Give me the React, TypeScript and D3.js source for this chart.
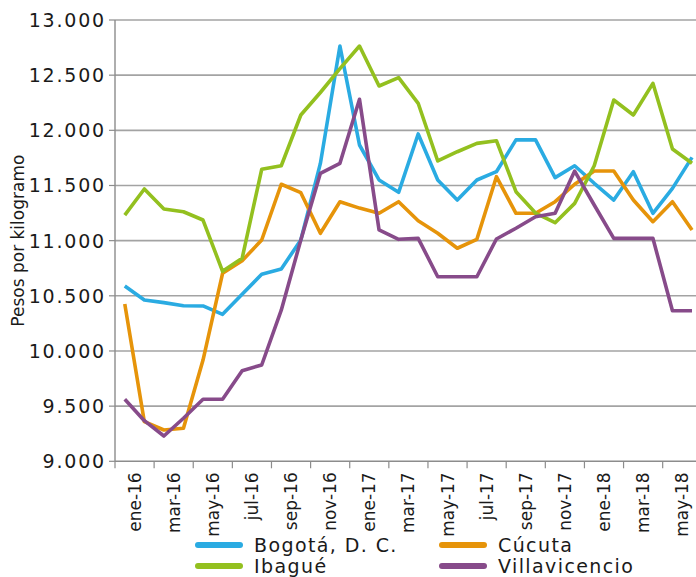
import React from 'react';
import * as d3 from 'd3';

const months = [
  "ene-16", "feb-16", "mar-16", "abr-16", "may-16", "jun-16", "jul-16", "ago-16", "sep-16", "oct-16", "nov-16", "dic-16",
  "ene-17", "feb-17", "mar-17", "abr-17", "may-17", "jun-17", "jul-17", "ago-17", "sep-17", "oct-17", "nov-17", "dic-17",
  "ene-18", "feb-18", "mar-18", "abr-18", "may-18", "jun-18"
];

const bogota = [10589, 10462, 10438, 10410, 10408, 10332, 10515, 10695, 10743, 11006, 11700, 12764,
  11867, 11550, 11438, 11967, 11550, 11368, 11550, 11625, 11913, 11913, 11571, 11679,
  11520, 11368, 11625, 11248, 11474, 11755];
const cucuta = [10426, 9359, 9284, 9299, 9918, 10704, 10818, 11006, 11511, 11435, 11067, 11353,
  11295, 11248, 11353, 11181, 11067, 10931, 11012, 11580, 11248, 11248, 11353, 11511,
  11631, 11631, 11368, 11172, 11353, 11097];
const ibague = [11232, 11468, 11287, 11262, 11187, 10722, 10840, 11647, 11679, 12139, 12343, 12559,
  12764, 12402, 12477, 12245, 11722, 11806, 11882, 11906, 11444, 11250, 11163, 11338,
  11679, 12275, 12139, 12426, 11831, 11701];
const villavicencio = [9562, 9368, 9229, 9390, 9562, 9562, 9821, 9873, 10370, 11006, 11610, 11701,
  12281, 11097, 11012, 11021, 10673, 10673, 10673, 11015, 11112, 11217, 11248, 11631,
  11323, 11021, 11021, 11021, 10365, 10365];

const yTicks = [9000, 9500, 10000, 10500, 11000, 11500, 12000, 12500, 13000];

const series = [
  { name: "Bogotá, D. C.", values: bogota, color: "#2aabe2" },
  { name: "Cúcuta", values: cucuta, color: "#e6940a" },
  { name: "Ibagué", values: ibague, color: "#93c01f" },
  { name: "Villavicencio", values: villavicencio, color: "#874b8a" },
];

const FONT = "'DejaVu Sans', sans-serif";

export default function App() {
  const left = 115, top = 20, bottom = 461.3;
  const band = 19.56;
  const right = left + band * months.length;

  const x = d3.scaleBand<string>().domain(months).range([left, right]);
  const y = d3.scaleLinear().domain([9000, 13000]).range([bottom, top]);

  const line = d3.line<number>()
    .x((_, i) => x(months[i])! + x.bandwidth() / 2)
    .y(d => y(d));

  const tickIdx = d3.range(0, months.length + 1, 2);
  const labelIdx = d3.range(0, months.length, 2);

  return (
    <svg width={696} height={577} style={{ position: 'absolute', left: 0, top: 0, background: '#fff' }}
      fontFamily={FONT}>
      {/* grid */}
      {yTicks.map(t => (
        <g key={t}>
          {t > 9000 && <line x1={left} x2={696} y1={y(t)} y2={y(t)} stroke="#a3a3a3" strokeWidth={1.6} />}
          <line x1={left - 6} x2={left} y1={y(t)} y2={y(t)} stroke="#8c8c8c" strokeWidth={1.2} />
          <text x={left - 9} y={y(t)} textAnchor="end" dominantBaseline="central" fontSize={19}
            letterSpacing={1.8} fill="#1a1a1a">
            {d3.format(",")(t).replace(",", ".")}
          </text>
        </g>
      ))}
      {/* axes */}
      <line x1={left} x2={left} y1={top} y2={bottom} stroke="#8c8c8c" strokeWidth={1.4} />
      <line x1={left} x2={696} y1={bottom} y2={bottom} stroke="#8c8c8c" strokeWidth={1.4} />
      {tickIdx.map(i => (
        <line key={i} x1={left + i * band} x2={left + i * band} y1={bottom} y2={bottom + 7} stroke="#8c8c8c" strokeWidth={1.2} />
      ))}
      {labelIdx.map(i => {
        const cx = x(months[i])! + x.bandwidth();
        return (
          <text key={i} transform={`translate(${cx},${bottom + 11}) rotate(-90)`} textAnchor="end"
            dominantBaseline="central" fontSize={17} fill="#1a1a1a">{months[i]}</text>
        );
      })}
      <text transform={`translate(18,${(top + bottom) / 2}) rotate(-90)`} textAnchor="middle"
        dominantBaseline="central" fontSize={17} fill="#1a1a1a">Pesos por kilogramo</text>

      {/* lines */}
      {series.map(s => (
        <path key={s.name} d={line(s.values)!} fill="none" stroke={s.color} strokeWidth={3.6}
          strokeLinejoin="round" />
      ))}

      {/* legend */}
      {series.map((s, i) => {
        const lx = i % 2 === 0 ? 196 : 440;
        const ly = i < 2 ? 545 : 566;
        return (
          <g key={s.name}>
            <line x1={lx + 2} x2={lx + 44} y1={ly} y2={ly} stroke={s.color} strokeWidth={6} strokeLinecap="round" />
            <text x={lx + 58} y={ly} dominantBaseline="central" fontSize={19} letterSpacing={1.4}
              fill="#1a1a1a">{s.name}</text>
          </g>
        );
      })}
    </svg>
  );
}
